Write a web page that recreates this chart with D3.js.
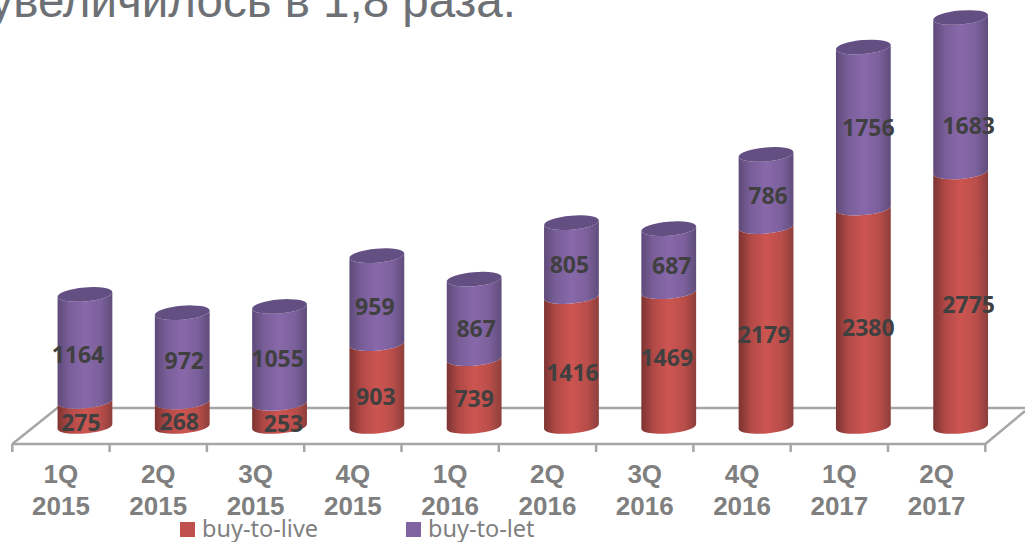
<!DOCTYPE html>
<meta charset="utf-8">
<style>
body { margin: 0; background: #fff; }
svg { display: block; }
text { font-family: "Liberation Sans", Arial, sans-serif; }
.cat { font-size: 26px; font-weight: bold; fill: #7f7f7f; text-anchor: middle; }
.val { font-family: "Open Sans", sans-serif; font-size: 23px; font-weight: bold; fill: #404040; text-anchor: middle; }
.leg { font-family: "Noto Sans", sans-serif; font-size: 23.5px; fill: #7f7f7f; }
.floor { stroke: #a6a6a6; stroke-width: 2.5px; fill: none; }
</style>
<svg width="1025" height="542"></svg>
<script src="https://d3js.org/d3.v7.min.js"></script>
<script>
var quarters = ["1Q", "2Q", "3Q", "4Q", "1Q", "2Q", "3Q", "4Q", "1Q", "2Q"];
var years = ["2015", "2015", "2015", "2015", "2016", "2016", "2016", "2016", "2017", "2017"];
var buyToLive = [275, 268, 253, 903, 739, 1416, 1469, 2179, 2380, 2775];
var buyToLet = [1164, 972, 1055, 959, 867, 805, 687, 786, 1756, 1683];
var seriesNames = ["buy-to-live", "buy-to-let"];
var titleText = "увеличилось в 1,8 раза.";

// hand placed labels in the original, offset from the middle of each segment
var liveNudge = [[-4, 9], [-3, 8], [4, 9], [-1, 12], [0, 6], [1, 11], [-2, -1], [-2, 8], [5, 10], [8, 6]];
var letNudge = [[-7, 7], [2, 3], [-2, 4], [-2, 7], [2, 10], [-2, 5], [3, 6], [2, 5], [5, 0], [8, 31]];

var svg = d3.select("svg");
var floorDepth = 24, rx = 27.5, ry = 7, tilt = 5;
var sin = Math.sin(tilt * Math.PI / 180), cos = Math.cos(tilt * Math.PI / 180);

var idx = d3.range(buyToLive.length);
var x = d3.scaleBand().domain(idx).range([12.3, 985.3]);
var y = d3.scaleLinear().domain([0, 4458]).range([426.5, 17.5]);

var defs = svg.append("defs");
function gradient(id, edgeL, mid, edgeR) {
    var g = defs.append("linearGradient").attr("id", id);
    g.append("stop").attr("offset", "0%").attr("stop-color", edgeL);
    g.append("stop").attr("offset", "22%").attr("stop-color", d3.interpolateRgb(edgeL, mid)(0.65));
    g.append("stop").attr("offset", "50%").attr("stop-color", mid);
    g.append("stop").attr("offset", "78%").attr("stop-color", d3.interpolateRgb(edgeR, mid)(0.7));
    g.append("stop").attr("offset", "100%").attr("stop-color", edgeR);
}
gradient("liveGrad", "#7c3331", "#cd5551", "#8e3e3b");
gradient("letGrad", "#5e4b79", "#8868aa", "#5f4d7a");

// title, cut off by the left edge
svg.append("text")
    .attr("x", 516).attr("y", 17)
    .attr("text-anchor", "end")
    .style("font-size", "47.5px")
    .style("fill", "#6d7175")
    .text(titleText);

// floor
var frontY = 444, backY = 408, backDx = 45;
var x0 = x.range()[0], x1 = x.range()[1];
svg.append("path").attr("class", "floor")
    .attr("d", `M${x0},${frontY}L${x1},${frontY}L1025,${backY + 3}`);
svg.append("path").attr("class", "floor")
    .attr("d", `M${x0},${frontY}L${x0 + backDx},${backY}L1025,${backY}`);
svg.selectAll(".tick").data(d3.range(idx.length + 1)).enter().append("line")
    .attr("class", "floor")
    .attr("x1", function(i) { return x0 + i * x.step(); })
    .attr("x2", function(i) { return x0 + i * x.step(); })
    .attr("y1", frontY).attr("y2", 452);

function cx(i) { return x(i) + x.bandwidth() / 2 + floorDepth; }

// cylinder side from value a up to value b
function side(i, a, b) {
    var c = cx(i), ya = y(a), yb = y(b);
    var dx = rx * cos, dy = rx * sin;
    return `M${c - dx},${yb + dy}` +
        `L${c - dx},${ya + dy}` +
        `A${rx},${ry} ${-tilt} 0 0 ${c + dx},${ya - dy}` +
        `L${c + dx},${yb - dy}` +
        `A${rx},${ry} ${-tilt} 0 1 ${c - dx},${yb + dy}Z`;
}

var bars = svg.selectAll(".bar").data(idx).enter().append("g").attr("class", "bar");
bars.append("path")
    .attr("fill", "url(#liveGrad)")
    .attr("d", function(i) { return side(i, 0, buyToLive[i]); });
bars.append("path")
    .attr("fill", "url(#letGrad)")
    .attr("d", function(i) { return side(i, buyToLive[i], buyToLive[i] + buyToLet[i]); });
bars.append("ellipse")
    .attr("rx", rx).attr("ry", ry)
    .attr("fill", "#644f82")
    .attr("transform", function(i) {
        return `translate(${cx(i)},${y(buyToLive[i] + buyToLet[i])}) rotate(${-tilt})`;
    });

// value labels
svg.selectAll(".live").data(idx).enter().append("text")
    .attr("class", "val live")
    .attr("dy", "0.36em")
    .attr("x", function(i) { return cx(i) + liveNudge[i][0]; })
    .attr("y", function(i) { return y(buyToLive[i] / 2) + liveNudge[i][1]; })
    .text(function(i) { return buyToLive[i]; });
svg.selectAll(".let").data(idx).enter().append("text")
    .attr("class", "val let")
    .attr("dy", "0.36em")
    .attr("x", function(i) { return cx(i) + letNudge[i][0]; })
    .attr("y", function(i) { return y(buyToLive[i] + buyToLet[i] / 2) + letNudge[i][1]; })
    .text(function(i) { return buyToLet[i]; });

// category labels
var cats = svg.selectAll(".catg").data(idx).enter().append("text")
    .attr("class", "cat")
    .attr("transform", function(i) { return `translate(${x(i) + x.bandwidth() / 2},0)`; });
cats.append("tspan").attr("x", 0).attr("y", 483).text(function(i) { return quarters[i]; });
cats.append("tspan").attr("x", 0).attr("y", 515).text(function(i) { return years[i]; });

// legend
var legendX = [180, 406], legendColors = ["#c0504d", "#8064a2"];
var leg = svg.selectAll(".legend").data(seriesNames).enter().append("g").attr("class", "legend");
leg.append("rect")
    .attr("x", function(d, i) { return legendX[i]; })
    .attr("y", 522).attr("width", 15).attr("height", 15)
    .attr("fill", function(d, i) { return legendColors[i]; });
leg.append("text")
    .attr("class", "leg")
    .attr("x", function(d, i) { return legendX[i] + 22; })
    .attr("y", 537)
    .text(function(d) { return d; });
</script>
